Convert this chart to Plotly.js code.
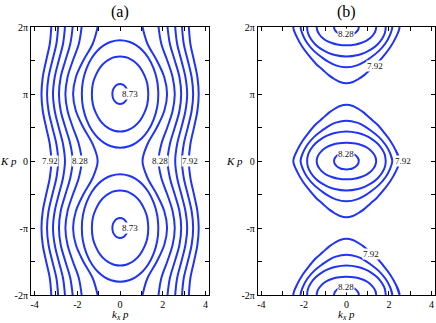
<!DOCTYPE html>
<html>
<head>
<meta charset="utf-8">
<script src="https://cdn.plot.ly/plotly-3.0.1.min.js"></script>
<style>html,body{margin:0;padding:0;background:#fff;}#chart{width:436px;height:323px;}</style>
</head>
<body>
<div id="chart"></div>
<script>
const PI = Math.PI;

// ---------- Panel (a) ----------
// open contour lines: |k_x p| read at K p = 0, π/4, π/2, 3π/4, π (pattern repeats with period 2π, mirrored in k_x)
const aOpenSamplesK = [0, 0.25 * PI, 0.5 * PI, 0.75 * PI, PI];
const aOpen1 = [3.22, 3.29, 3.46, 3.62, 3.68];
const aOpen2 = [2.90, 2.98, 3.17, 3.35, 3.42];
const aOpen3 = [2.58, 2.67, 2.87, 3.06, 3.14];
const aOpen4 = [2.22, 2.33, 2.56, 2.78, 2.86];
const aOpen5 = [1.80, 1.93, 2.21, 2.46, 2.56];
const aOpen6 = [1.05, 1.28, 1.72, 2.07, 2.20];
const aOpenCurves = [aOpen1, aOpen2, aOpen3, aOpen4, aOpen5, aOpen6];

// closed contour lines around the maxima at K p = ±π : offset in K p and half width in k_x p
const aIslandCentres = [-PI, PI];
const aOuterDK = [0, 0.6, 1.2, 1.7, 2.05, 2.3, 2.45, 2.52];
const aOuterHW = [1.79, 1.74, 1.57, 1.32, 1.04, 0.73, 0.42, 0];
const aInnerDK = [0, 0.5, 0.9, 1.25, 1.5, 1.65, 1.72, 1.76];
const aInnerHW = [1.32, 1.27, 1.13, 0.93, 0.69, 0.46, 0.28, 0];
const aSmallDK = [0, 0.2, 0.35, 0.43, 0.47];
const aSmallHW = [0.36, 0.33, 0.24, 0.15, 0];

// ---------- Panel (b) ----------
// closed contour lines around K p = 0 (repeated at ±2π)
const bIslandCentres = [-2 * PI, 0, 2 * PI];
const bRing5DK = [0, 0.5, 0.94, 1.3, 1.72, 2.0, 2.27, 2.45, 2.58, 2.64];
const bRing5HW = [2.50, 2.32, 2.07, 1.80, 1.44, 1.12, 0.82, 0.55, 0.30, 0];
const bRing4DK = [0, 0.38, 0.76, 1.13, 1.42, 1.64, 1.80, 1.89];
const bRing4HW = [2.16, 2.05, 1.84, 1.52, 1.16, 0.84, 0.50, 0];
const bRing3DK = [0, 0.28, 0.55, 0.83, 1.04, 1.20, 1.31, 1.38];
const bRing3HW = [1.85, 1.81, 1.68, 1.45, 1.18, 0.88, 0.55, 0];
const bRing2DK = [0, 0.17, 0.34, 0.52, 0.65, 0.75, 0.82, 0.86];
const bRing2HW = [1.40, 1.37, 1.28, 1.12, 0.93, 0.69, 0.43, 0];
const bRing1DK = [0, 0.08, 0.16, 0.24, 0.30, 0.35, 0.38, 0.40];
const bRing1HW = [0.58, 0.57, 0.53, 0.46, 0.38, 0.28, 0.18, 0];

// contour labels
const aLabelText = ['8.73', '8.73', '7.92', '8.28', '8.28', '7.92'];
const aLabelX = [0.47, 0.47, -3.29, -1.89, 1.86, 3.25];
const aLabelY = [PI, -PI, 0, 0, 0, 0];
const bLabelText = ['8.28', '7.92', '8.28', '7.92', '8.28', '7.92'];
const bLabelX = [0, 1.34, 0, 2.66, 0, 1.17];
const bLabelY = [2 * PI - 0.35, 2 * PI - 1.84, 0.33, 0, -2 * PI + 0.36, -2 * PI + 1.94];

// axis ticks
const yTickVals = [-2 * PI, -PI, 0, PI, 2 * PI];
const yTickText = ['-2π', '-π', '0', 'π', '2π'];
const xTickVals = [-4, -2, 0, 2, 4];
const xTickText = ['-4', '-2', '0', '2', '4'];

const LINE = {color: 'rgb(32,52,245)', width: 2, shape: 'spline', smoothing: 1};
const traces = [];

function openCurve(vals, sign, xa, ya) {
  const xs = [], ys = [];
  for (let j = -8; j <= 8; j++) {
    let idx = ((j % 8) + 8) % 8;
    if (idx > 4) idx = 8 - idx;
    xs.push(sign * vals[idx]);
    ys.push(j * aOpenSamplesK[1]);
  }
  traces.push({x: xs, y: ys, mode: 'lines', line: LINE, xaxis: xa, yaxis: ya, hoverinfo: 'skip'});
}
function closedCurve(dK, hw, cK, xa, ya) {
  const xs = [], ys = [];
  const n = dK.length;
  for (let i = 0; i < n; i++) { xs.push(hw[i]); ys.push(cK + dK[i]); }
  for (let i = n - 2; i >= 0; i--) { xs.push(-hw[i]); ys.push(cK + dK[i]); }
  for (let i = 1; i < n; i++) { xs.push(-hw[i]); ys.push(cK - dK[i]); }
  for (let i = n - 2; i >= 0; i--) { xs.push(hw[i]); ys.push(cK - dK[i]); }
  xs.push(hw[1]); ys.push(cK + dK[1]);
  traces.push({x: xs, y: ys, mode: 'lines', line: LINE, xaxis: xa, yaxis: ya, hoverinfo: 'skip'});
}

aOpenCurves.forEach(c => { openCurve(c, -1, 'x', 'y'); openCurve(c, 1, 'x', 'y'); });
aIslandCentres.forEach(c => {
  closedCurve(aOuterDK, aOuterHW, c, 'x', 'y');
  closedCurve(aInnerDK, aInnerHW, c, 'x', 'y');
  closedCurve(aSmallDK, aSmallHW, c, 'x', 'y');
});
bIslandCentres.forEach(c => {
  closedCurve(bRing5DK, bRing5HW, c, 'x2', 'y2');
  closedCurve(bRing4DK, bRing4HW, c, 'x2', 'y2');
  closedCurve(bRing3DK, bRing3HW, c, 'x2', 'y2');
  closedCurve(bRing2DK, bRing2HW, c, 'x2', 'y2');
  closedCurve(bRing1DK, bRing1HW, c, 'x2', 'y2');
});

const SERIF = '"Liberation Serif", "Times New Roman", Times, serif';
const ann = [];
function lab(t, x, y, xr, yr) {
  ann.push({text: t, x: x, y: y, xref: xr, yref: yr, showarrow: false, bgcolor: 'white',
            borderpad: 0, font: {family: SERIF, size: 9, color: '#111'}});
}
aLabelText.forEach((t, i) => lab(t, aLabelX[i], aLabelY[i], 'x', 'y'));
bLabelText.forEach((t, i) => lab(t, bLabelX[i], bLabelY[i], 'x2', 'y2'));

ann.push({text: '(a)', x: 0, xref: 'x', y: 1, yref: 'paper', yanchor: 'middle', yshift: 15,
          showarrow: false, font: {family: SERIF, size: 16, color: '#000'}});
ann.push({text: '(b)', x: 0, xref: 'x2', y: 1, yref: 'paper', yanchor: 'middle', yshift: 15,
          showarrow: false, font: {family: SERIF, size: 16, color: '#000'}});
ann.push({text: '<i>K p</i>', x: -0.0545, xref: 'paper', y: 0, yref: 'y', xanchor: 'center',
          showarrow: false, font: {family: SERIF, size: 11, color: '#000'}});
ann.push({text: '<i>K p</i>', x: 0.5025, xref: 'paper', y: 0, yref: 'y2', xanchor: 'center',
          showarrow: false, font: {family: SERIF, size: 11, color: '#000'}});
ann.push({text: '<i>k<sub>x</sub> p</i>', x: 0, xref: 'x', y: 0, yref: 'paper', yanchor: 'top', yshift: -11,
          showarrow: false, font: {family: SERIF, size: 11, color: '#000'}});
ann.push({text: '<i>k<sub>x</sub> p</i>', x: 0, xref: 'x2', y: 0, yref: 'paper', yanchor: 'top', yshift: -11,
          showarrow: false, font: {family: SERIF, size: 11, color: '#000'}});

function xax(dom, anchor) {
  return {domain: dom, anchor: anchor, range: [-4.17, 4.17], tickmode: 'array', tickvals: xTickVals, ticktext: xTickText,
          ticks: 'inside', ticklen: 4, tickwidth: 1, tickcolor: '#000', mirror: 'ticks', showline: true,
          minor: {tickmode: 'linear', tick0: 0, dtick: 1, ticks: 'inside', ticklen: 4, tickwidth: 1, tickcolor: '#000', showgrid: false},
          linecolor: '#000', linewidth: 1, showgrid: false, zeroline: false, tickfont: {family: SERIF, size: 10, color: '#000'}};
}
function yax(anchor) {
  return {anchor: anchor, range: [-2 * PI, 2 * PI], tickmode: 'array', tickvals: yTickVals, ticktext: yTickText,
          ticks: 'inside', ticklen: 4, tickwidth: 1, tickcolor: '#000', mirror: 'ticks', showline: true,
          minor: {tickmode: 'linear', tick0: 0, dtick: 0.5 * PI, ticks: 'inside', ticklen: 4, tickwidth: 1, tickcolor: '#000', showgrid: false},
          linecolor: '#000', linewidth: 1, showgrid: false, zeroline: false, tickfont: {family: SERIF, size: 10, color: '#000'}};
}

const layout = {
  width: 436, height: 323,
  margin: {l: 31, r: 1, t: 27, b: 28},
  paper_bgcolor: 'white', plot_bgcolor: 'white', showlegend: false,
  font: {family: SERIF, size: 10, color: '#000'},
  xaxis: xax([0, 0.441], 'y'),
  yaxis: yax('x'),
  xaxis2: xax([0.5615, 1], 'y2'),
  yaxis2: yax('x2'),
  annotations: ann
};

Plotly.newPlot('chart', traces, layout, {staticPlot: true, displayModeBar: false});
</script>
</body>
</html>
